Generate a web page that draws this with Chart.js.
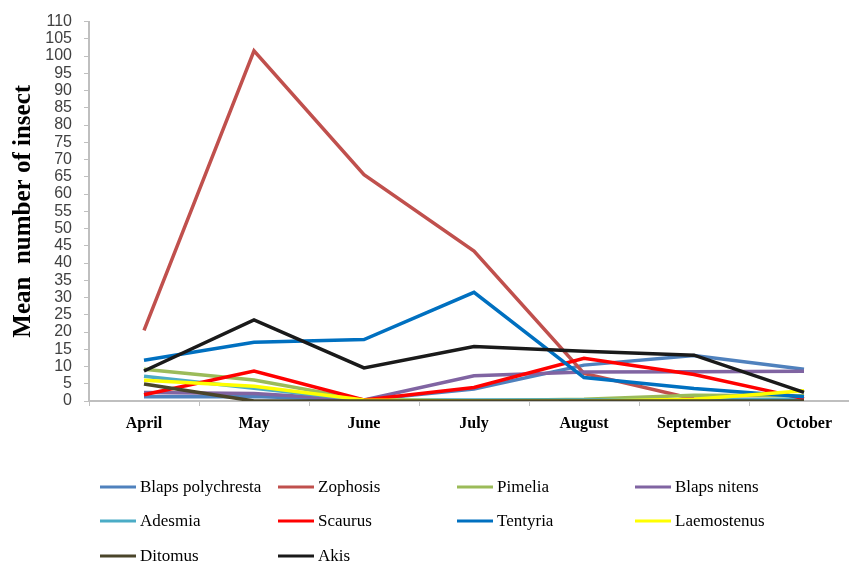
<!DOCTYPE html>
<html>
<head>
<meta charset="utf-8">
<script src="https://cdn.jsdelivr.net/npm/chart.js@4"></script>
<style>
  body { margin: 0; background: #fff; overflow: hidden; width: 849px; height: 564px; position: relative; }
  #chart-box { position: absolute; left: 0; top: 0; width: 870px; height: 564px; }
</style>
</head>
<body>
<div id="chart-box"><canvas id="chart"></canvas></div>
<script>
const months = ["April", "May", "June", "July", "August", "September", "October"];
const seriesNames = ["Blaps polychresta", "Zophosis", "Pimelia", "Blaps nitens", "Adesmia",
  "Scaurus", "Tentyria", "Laemostenus", "Ditomus", "Akis"];
const blapsPolychresta = [1.2, 1.3, 0.3, 3.5, 10.4, 13.2, 9.2];
const zophosis = [20.5, 101.5, 65.6, 43.5, 8.0, 0.6, 0.3];
const pimelia = [9.2, 6.1, 0.3, 0.1, 0.5, 1.7, 1.5];
const blapsNitens = [2.5, 2.2, 0.3, 7.3, 8.4, 8.5, 8.6];
const adesmia = [7.2, 3.7, 0.3, 0.3, 0.3, 0.3, 0.5];
const scaurus = [1.8, 8.7, 0.3, 3.9, 12.4, 7.7, 0.7];
const tentyria = [11.8, 17.0, 17.8, 31.5, 6.8, 3.6, 1.2];
const laemostenus = [6.0, 4.3, 0.3, 0, 0, 0.5, 3.0];
const ditomus = [4.9, 0, 0, 0, 0, 0, 0];
const akis = [8.7, 23.5, 9.6, 15.8, 14.4, 13.3, 2.5];
const yTicks = { min: 0, max: 110, step: 5 };

const seriesValues = [blapsPolychresta, zophosis, pimelia, blapsNitens, adesmia,
  scaurus, tentyria, laemostenus, ditomus, akis];
const colors = ["#4F81BD", "#C0504D", "#9BBB59", "#8064A2", "#4BACC6",
  "#FF0000", "#0070C0", "#FFFF00", "#4A452A", "#1A1A1A"];

// later series sit on top, as in the original
const datasets = seriesNames.map((name, i) => ({
  label: name,
  data: seriesValues[i],
  borderColor: colors[i],
  backgroundColor: colors[i],
  borderWidth: 3.5,
  pointRadius: 0,
  tension: 0,
  order: -i,
}));

const axisGray = "#BFBFBF";

// legend drawn under the plot as a 4-column grid like the source
const gridLegend = {
  id: "gridLegend",
  afterDraw(chart) {
    const ctx = chart.ctx;
    const colX = [100, 278, 457, 635];
    const rowY = [487, 521, 556];
    ctx.save();
    ctx.font = "17px 'Liberation Serif'";
    ctx.textBaseline = "middle";
    chart.data.datasets.forEach((ds, i) => {
      const x = colX[i % 4];
      const y = rowY[Math.floor(i / 4)];
      ctx.fillStyle = ds.borderColor;
      ctx.fillRect(x, y - 1.5, 36, 3);
      ctx.fillStyle = "#000";
      ctx.fillText(ds.label, x + 40, y + 1);
    });
    ctx.restore();
  },
};

new Chart(document.getElementById("chart").getContext("2d"), {
  type: "line",
  data: { labels: months, datasets: datasets },
  plugins: [gridLegend],
  options: {
    responsive: true,
    maintainAspectRatio: false,
    animation: false,
    layout: { padding: { top: 19, right: 11, bottom: 124, left: 0 } },
    plugins: { legend: { display: false }, tooltip: { enabled: false } },
    scales: {
      x: {
        offset: true,
        grid: { display: true, drawOnChartArea: false, offset: true, tickLength: 5, color: axisGray },
        border: { color: axisGray, width: 2 },
        ticks: {
          color: "#000",
          padding: 8,
          maxRotation: 0,
          font: { family: "Liberation Serif", size: 16, weight: "bold" },
        },
        afterFit: (scale) => { scale.height = 39; },
      },
      y: {
        min: yTicks.min,
        max: yTicks.max,
        grid: { display: true, drawOnChartArea: false, tickLength: 5, color: axisGray },
        border: { color: axisGray, width: 2 },
        ticks: {
          stepSize: yTicks.step,
          autoSkip: false,
          color: "#404040",
          padding: 12,
          font: { family: "Liberation Sans", size: 16 },
        },
        title: {
          display: true,
          text: "Mean  number of insect",
          color: "#000",
          padding: { top: 9, bottom: 0 },
          font: { family: "Liberation Serif", size: 25, weight: "bold" },
        },
        afterFit: (scale) => { scale.width = 89; },
      },
    },
  },
});
</script>
</body>
</html>
